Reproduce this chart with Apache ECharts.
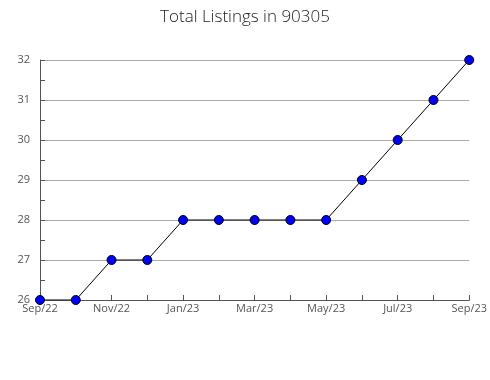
<!DOCTYPE html>
<html><head><meta charset="utf-8">
<script src="https://cdn.jsdelivr.net/npm/echarts@6/dist/echarts.min.js"></script>
<style>html,body{margin:0;padding:0;background:#fff}#c{width:490px;height:380px}</style>
</head><body><div id="c"></div>
<script>
const titleText = 'Total Listings in 90305';
const months = ['Sep/22','Oct/22','Nov/22','Dec/22','Jan/23','Feb/23','Mar/23','Apr/23','May/23','Jun/23','Jul/23','Aug/23','Sep/23'];
const listings = [26,26,27,27,28,28,28,28,28,29,30,31,32];
const yMin = 26, yMax = 32, yStep = 1, yTickStep = 0.5;

const chart = echarts.init(document.getElementById('c'));
chart.setOption({
  animation: false,
  backgroundColor: '#fff',
  title: {
    text: titleText, left: 'center', top: 4,
    textStyle: {fontFamily: 'Open Sans', fontWeight: 300, fontSize: 17, color: '#222'}
  },
  grid: {left: 40, right: 20, top: 60, bottom: 80},
  xAxis: {
    type: 'category', data: months, boundaryGap: false,
    axisLine: {lineStyle: {color: '#555', width: 1}},
    axisTick: {inside: true, length: 5, interval: 0, lineStyle: {color: '#555'}},
    axisLabel: {interval: 1, color: '#555', fontFamily: 'Open Sans', fontSize: 11, margin: 3},
    splitLine: {show: false}
  },
  yAxis: [{
    type: 'value', min: yMin, max: yMax, interval: yStep, position: 'left',
    axisLine: {show: true, lineStyle: {color: '#555', width: 1}},
    axisTick: {show: false},
    axisLabel: {color: '#555', fontFamily: 'Open Sans', fontSize: 11, margin: 10},
    splitLine: {show: true, lineStyle: {color: '#aaa', width: 1}}
  }, {
    type: 'value', min: yMin, max: yMax, interval: yTickStep, position: 'left', offset: 0,
    axisLine: {show: false},
    axisTick: {show: true, inside: true, length: 5, lineStyle: {color: '#555'}},
    axisLabel: {show: false},
    splitLine: {show: false}
  }],
  series: [{
    type: 'line', data: listings, yAxisIndex: 0,
    symbol: 'circle', symbolSize: 9,
    itemStyle: {color: '#0000ff', borderColor: '#000', borderWidth: 1},
    lineStyle: {color: '#000', width: 1}
  }]
});
</script></body></html>
